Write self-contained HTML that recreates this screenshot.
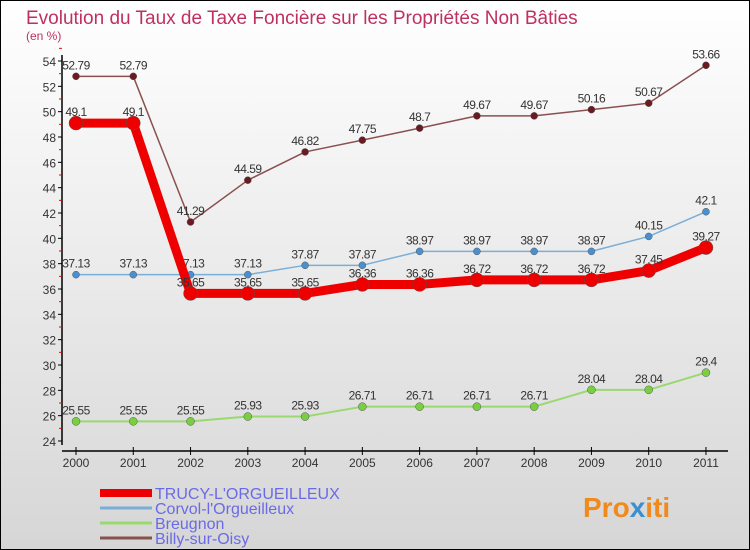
<!DOCTYPE html>
<html><head><meta charset="utf-8"><style>
body{margin:0}
#c{width:750px;height:550px;position:relative;background:linear-gradient(#fff,#d6d6d6);border:1px solid #000;box-sizing:border-box;overflow:hidden;font-family:"Liberation Sans",sans-serif}
</style></head><body>
<div id="c">
<svg id="s" width="750" height="550" style="position:absolute;left:-1px;top:-1px">
<text x="26" y="24" font-size="19" fill="#c0305e">Evolution du Taux de Taxe Foncière sur les Propriétés Non Bâties</text>
<text x="26" y="40" font-size="12" fill="#c0305e">(en %)</text>
<g id="axes"></g><g id="series"></g><g id="legend"></g>
<text x="583" y="517" font-size="28" font-weight="bold" fill="#f08a1c">Pro<tspan fill="#3a8fd0">x</tspan>iti</text>
</svg>
</div>
<script>
const years=["2000","2001","2002","2003","2004","2005","2006","2007","2008","2009","2010","2011"];
const trucy=[49.1,49.1,35.65,35.65,35.65,36.36,36.36,36.72,36.72,36.72,37.45,39.27];
const corvol=[37.13,37.13,37.13,37.13,37.87,37.87,38.97,38.97,38.97,38.97,40.15,42.1];
const breugnon=[25.55,25.55,25.55,25.93,25.93,26.71,26.71,26.71,26.71,28.04,28.04,29.4];
const billy=[52.79,52.79,41.29,44.59,46.82,47.75,48.7,49.67,49.67,50.16,50.67,53.66];
const yTicks=[24,26,28,30,32,34,36,38,40,42,44,46,48,50,52,54];
const names=["TRUCY-L'ORGUEILLEUX","Corvol-l'Orgueilleux","Breugnon","Billy-sur-Oisy"];
const NS="http://www.w3.org/2000/svg";
const X=i=>76+i*57.27, Y=v=>441-(v-24)*(441-61)/30;
function el(t,a,p){const e=document.createElementNS(NS,t);for(const k in a)e.setAttribute(k,a[k]);p.appendChild(e);return e;}
const ax=document.getElementById('axes');
let l=el('line',{x1:62,y1:55,x2:62,y2:445,stroke:'#000','stroke-width':1.5},ax);


l=el('line',{x1:62,y1:451,x2:728,y2:451,stroke:'#000','stroke-width':1.5},ax);


yTicks.forEach(v=>{
  el('line',{x1:58,y1:Y(v),x2:62,y2:Y(v),stroke:'#000'},ax);
  el('line',{x1:59,y1:Y(v+1),x2:62,y2:Y(v+1),stroke:'#e00'},ax);
  const t=el('text',{x:56,y:Y(v)+5,'text-anchor':'end','font-size':12,fill:'#333'},ax);
  t.textContent=v;
  
  
});
years.forEach((y,i)=>{
  el('line',{x1:X(i),y1:447,x2:X(i),y2:455,stroke:'#000'},ax);
  const t=el('text',{x:X(i),y:467,'text-anchor':'middle','font-size':12,fill:'#333'},ax);
  t.textContent=y;
  
  
});
const sg=document.getElementById('series');
const defs=[[breugnon,'#9ad870','#78d040',2,4,'breugnon'],[corvol,'#7aaed8','#4a90d0',1.5,3.5,'corvol'],[trucy,'#ee0000','#ee0000',9,7,'trucy'],[billy,'#8a5050','#6a1a20',1.5,3.5,'billy']];
defs.forEach(([d,lc,pc,w,r,n])=>{
  const p=el('polyline',{points:d.map((v,i)=>X(i)+','+Y(v)).join(' '),fill:'none',stroke:lc,'stroke-width':w,'stroke-linejoin':'round'},sg);
  
  
  d.forEach((v,i)=>{
    const c=el('circle',{cx:X(i),cy:Y(v),r:r,fill:pc,stroke:'#555','stroke-width':0.5},sg);
    
    
    const t=el('text',{x:X(i),y:Y(v)-7,'text-anchor':'middle','font-size':12,fill:'#333','letter-spacing':'-0.5'},sg);
    t.textContent=String(v);
    
    
  });
});
const lg=document.getElementById('legend');
const lcol=['#ee0000','#7aaed8','#9ad870','#8a5050'],lw=[8,3,3,3];
names.forEach((n,i)=>{
  const y=493+i*15;
  const s=el('line',{x1:100,y1:y,x2:152,y2:y,stroke:lcol[i],'stroke-width':lw[i]},lg);
  
  
  const t=el('text',{x:155,y:y+6,'font-size':16,fill:'#6a6ae8'},lg);
  t.textContent=n;
  
  
});
</script>
</body></html>
